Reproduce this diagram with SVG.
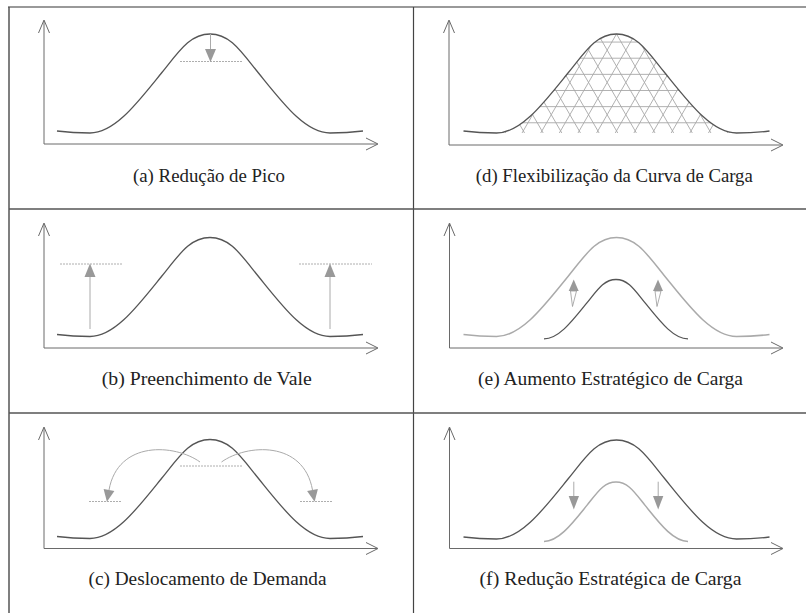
<svg xmlns="http://www.w3.org/2000/svg" width="806" height="613" viewBox="0 0 806 613">
<style>
.frame{stroke:#555;stroke-width:1.5;fill:none}
.axis{stroke:#6a6a6a;stroke-width:1;fill:none}
.dark{stroke:#555;stroke-width:1.3;fill:none}
.light{stroke:#aaa;stroke-width:1.5;fill:none}
.shaft{stroke:#aaa;stroke-width:1;fill:none}
.head{fill:#999;stroke:none}
.dots{stroke:#999;stroke-width:0.8;stroke-dasharray:2 1;fill:none}
.hatch{stroke:#a8a8a8;stroke-width:0.9;fill:none}
.lbl{font-family:Liberation Serif,Tinos,Times New Roman,Times,DejaVu Serif,serif;font-size:18.9px;fill:#222;text-anchor:middle}
</style>
<defs>
<path id="curve" d="M-153,97 C-145,98 -135,99 -120,99 C-95,99 -72,68 -48.5,39 C-30.5,16.7 -20,0 0,0 C20,0 30.5,16.7 48.5,39 C72,68 95,99 120,99 C135,99 145,98 153,97"/>
<path id="small" d="M-72,59.4 C-57,59.4 -43.2,40.8 -29.1,23.4 C-18.3,10 -12,0 0,0 C12,0 18.3,10 29.1,23.4 C43.2,40.8 57,59.4 72,59.4"/>
<clipPath id="clipD">
<path transform="translate(616.5,34)" d="M-120,99 C-95,99 -72,68 -48.5,39 C-30.5,16.7 -20,0 0,0 C20,0 30.5,16.7 48.5,39 C72,68 95,99 120,99 Z"/>
</clipPath>
</defs>
<rect width="806" height="613" fill="#fff"/>
<g id="frame">
<line x1="8" y1="7" x2="806" y2="7" stroke="#999" stroke-width="2"/>
<line class="frame" x1="9" y1="7" x2="9" y2="613"/>
<line x1="413.5" y1="7" x2="413.5" y2="613" stroke="#444" stroke-width="1.2"/>
<line class="frame" x1="9" y1="209" x2="806" y2="209"/>
<line class="frame" x1="9" y1="413" x2="806" y2="413"/>
</g>
<g id="panel-a">
<path class="axis" d="M44,144 V21 M38.5,33 L44,20 L49.5,33 M44,144 H377 M366,138 L378,144 L366,150"/>
<use href="#curve" class="dark" transform="translate(210,34)"/>
<line class="dots" x1="180" y1="61.5" x2="242" y2="61.5"/>
<line class="shaft" x1="210.5" y1="34" x2="210.5" y2="50"/>
<polygon class="head" points="205,49 216,49 210.5,62"/>
<text class="lbl" x="209" y="182" textLength="152" lengthAdjust="spacingAndGlyphs">(a) Redução de Pico</text>
</g>
<g id="panel-d">
<path class="axis" d="M449,145 V21 M443.5,33 L449,20 L454.5,33 M449,145 H782 M771,139 L783,145 L771,151"/>
<g clip-path="url(#clipD)">
<path class="hatch" d="M490,42.07 H745 M490,58.21 H745 M490,74.35 H745 M490,90.49 H745 M490,106.63 H745 M490,122.77 H745
M446.43,30 L507.64,136 M465.07,30 L526.28,136 M483.71,30 L544.92,136 M502.35,30 L563.56,136 M520.99,30 L582.2,136 M539.63,30 L600.84,136 M558.27,30 L619.48,136 M576.91,30 L638.12,136 M595.55,30 L656.76,136 M614.19,30 L675.4,136 M632.83,30 L694.04,136 M651.47,30 L712.68,136 M670.11,30 L731.32,136 M688.75,30 L749.96,136 M707.39,30 L768.6,136 M726.03,30 L787.24,136
M506.97,30 L445.76,136 M525.61,30 L464.4,136 M544.25,30 L483.04,136 M562.89,30 L501.68,136 M581.53,30 L520.32,136 M600.17,30 L538.96,136 M618.81,30 L557.6,136 M637.45,30 L576.24,136 M656.09,30 L594.88,136 M674.73,30 L613.52,136 M693.37,30 L632.16,136 M712.01,30 L650.8,136 M730.65,30 L669.44,136 M749.29,30 L688.08,136 M767.93,30 L706.72,136 M786.57,30 L725.36,136"/>
</g>
<use href="#curve" class="dark" transform="translate(616.5,34)"/>
<text class="lbl" x="614.3" y="182" textLength="277" lengthAdjust="spacingAndGlyphs">(d) Flexibilização da Curva de Carga</text>
</g>
<g id="panel-b">
<path class="axis" d="M44,348 V224 M38.5,236 L44,223 L49.5,236 M44,348 H377 M366,342 L378,348 L366,354"/>
<use href="#curve" class="dark" transform="translate(210,237.5)"/>
<line class="dots" x1="60" y1="264" x2="123" y2="264"/>
<line class="dots" x1="299" y1="264" x2="372" y2="264"/>
<line class="shaft" x1="90" y1="329" x2="90" y2="277"/>
<polygon class="head" points="84.5,277 95.5,277 90,263.5"/>
<line class="shaft" x1="330" y1="329" x2="330" y2="277"/>
<polygon class="head" points="324.5,277 335.5,277 330,263.5"/>
<text class="lbl" x="206.7" y="385" textLength="210" lengthAdjust="spacingAndGlyphs">(b) Preenchimento de Vale</text>
</g>
<g id="panel-e">
<path class="axis" d="M449.5,348 V224 M444,236 L449.5,223 L455,236 M449.5,348 H782 M771,342 L783,348 L771,354"/>
<use href="#curve" class="light" transform="translate(616.5,237.5)"/>
<use href="#small" class="dark" transform="translate(616,279.5)"/>
<polygon points="570.5,291 572.5,306.5 576.5,291" fill="#fff" stroke="#999" stroke-width="0.8"/>
<polygon class="head" points="568.7,291 578.7,291 573.7,279.5"/>
<polygon points="655,291 657,306.5 661,291" fill="#fff" stroke="#999" stroke-width="0.8"/>
<polygon class="head" points="653,291 663,291 658,279.5"/>
<text class="lbl" x="610.5" y="385" textLength="265" lengthAdjust="spacingAndGlyphs">(e) Aumento Estratégico de Carga</text>
</g>
<g id="panel-c">
<path class="axis" d="M44,548.5 V428 M38.5,440 L44,427 L49.5,440 M44,548.5 H377 M366,542.5 L378,548.5 L366,554.5"/>
<use href="#curve" class="dark" transform="translate(210,439.5)"/>
<line class="dots" x1="180" y1="466" x2="242" y2="466"/>
<line class="dots" x1="89" y1="501.5" x2="122" y2="501.5"/>
<line class="dots" x1="300" y1="501.5" x2="333" y2="501.5"/>
<path class="shaft" d="M200,462 C175,444 118,440 109,490"/>
<polygon class="head" points="114.4,491 103.6,489 106.9,501.8"/>
<path class="shaft" d="M221.5,462 C246.5,444 303.5,440 312.5,490"/>
<polygon class="head" points="307.1,491 317.9,489 314.6,501.8"/>
<text class="lbl" x="207.5" y="585" textLength="238" lengthAdjust="spacingAndGlyphs">(c) Deslocamento de Demanda</text>
</g>
<g id="panel-f">
<path class="axis" d="M449.5,548.5 V428 M444,440 L449.5,427 L455,440 M449.5,548.5 H782 M771,542.5 L783,548.5 L771,554.5"/>
<use href="#curve" class="dark" transform="translate(616.5,440)"/>
<use href="#small" class="light" transform="translate(616,482)"/>
<line class="shaft" x1="573.8" y1="481.7" x2="573.8" y2="497"/>
<polygon class="head" points="568.7,496 579,496 573.8,509.5"/>
<line class="shaft" x1="658.2" y1="481.7" x2="658.2" y2="497"/>
<polygon class="head" points="653,496 663.3,496 658.2,509.5"/>
<text class="lbl" x="610.5" y="585" textLength="262" lengthAdjust="spacingAndGlyphs">(f) Redução Estratégica de Carga</text>
</g>
</svg>
